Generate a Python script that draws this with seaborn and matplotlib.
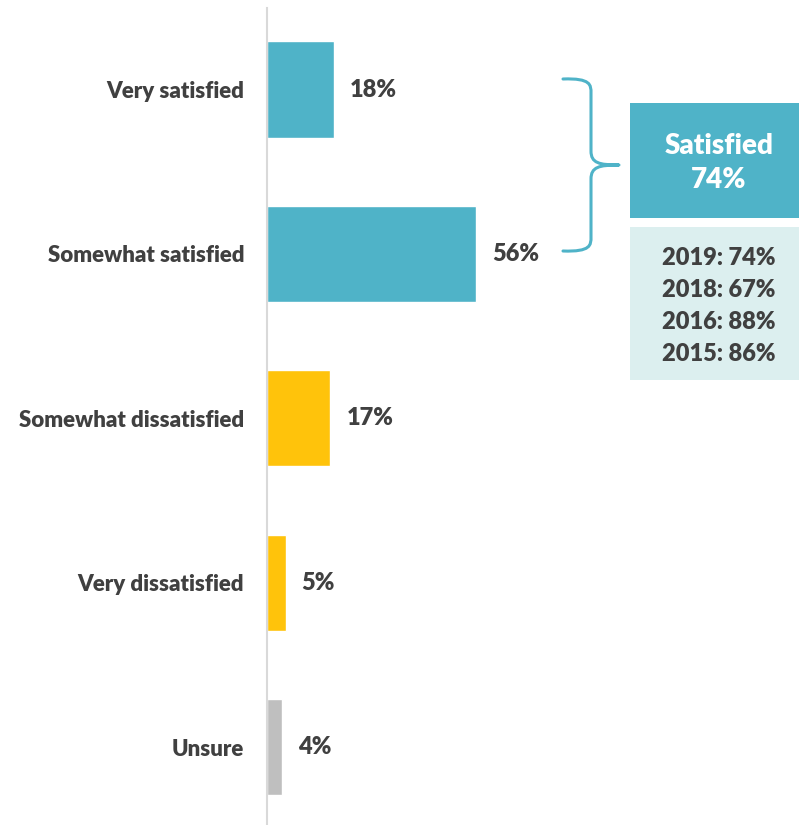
import matplotlib
matplotlib.use("Agg")
import matplotlib.pyplot as plt
from matplotlib.path import Path
from matplotlib.patches import PathPatch, Rectangle
import seaborn as sns
import pandas as pd

categories = ["Very satisfied", "Somewhat satisfied", "Somewhat dissatisfied",
              "Very dissatisfied", "Unsure"]
values = [18, 56, 17, 5, 4]
groups = ["sat", "sat", "dis", "dis", "unsure"]
group_colors = {"sat": "#4FB3C8", "dis": "#FFC30B", "unsure": "#BFBFBF"}

summary_title = "Satisfied"
summary_value = 74
trend_years = ["2019", "2018", "2016", "2015"]
trend_values = [74, 67, 88, 86]

TEXT = "#404040"
WEIGHT = "heavy"

sns.set_theme(style="white")
plt.rcParams["font.family"] = ["Lato", "DejaVu Sans"]

df = pd.DataFrame({"category": categories, "value": values, "group": groups})

W, H = 799, 825
fig = plt.figure(figsize=(W / 100, H / 100), dpi=100)
ax = fig.add_axes([267 / W, 0, 1 - 267 / W, 1 - 8 / H])

sns.barplot(data=df, y="category", x="value", hue="group", palette=group_colors,
            order=categories, orient="h", width=0.585, dodge=False,
            legend=False, saturation=1, ax=ax)

ax.set_xlim(0, 532 / 3.73)
ax.set_ylim(4.474, -0.496)
ax.set_xlabel("")
ax.set_ylabel("")
ax.set_xticks([])
ax.tick_params(axis="y", length=0, pad=16.5)
for lab in ax.get_yticklabels():
    lab.set_fontsize(16)
    lab.set_fontweight(WEIGHT)
    lab.set_color(TEXT)
for side in ["top", "right", "bottom"]:
    ax.spines[side].set_visible(False)
ax.spines["left"].set_color("#D9D9D9")
ax.spines["left"].set_linewidth(1.5)

for i, v in enumerate(values):
    ax.annotate(f"{v}%", xy=(v, i), xytext=(11.5, 0), textcoords="offset points",
                va="center", ha="left", fontsize=17, fontweight=WEIGHT, color=TEXT)

# overlay in pixel units for the summary callout
ov = fig.add_axes([0, 0, 1, 1], zorder=5)
ov.set_xlim(0, W)
ov.set_ylim(H, 0)
ov.axis("off")
ov.patch.set_alpha(0)

top, mid, bot = 79, 165, 251
xl, xv, xt = 563, 591, 619
verts = [
    (xl, top), (xv, top - 1), (xv, top + 6), (xv, top + 14),
    (xv, mid - 14),
    (xv, mid - 2), (xv + 8, mid), (xt, mid),
    (xv + 8, mid), (xv, mid + 2), (xv, mid + 14),
    (xv, bot - 14),
    (xv, bot - 6), (xv, bot + 1), (xl, bot),
]
codes = [Path.MOVETO, Path.CURVE4, Path.CURVE4, Path.CURVE4,
         Path.LINETO,
         Path.CURVE4, Path.CURVE4, Path.CURVE4,
         Path.CURVE4, Path.CURVE4, Path.CURVE4,
         Path.LINETO,
         Path.CURVE4, Path.CURVE4, Path.CURVE4]
ov.add_patch(PathPatch(Path(verts, codes), fill=False, edgecolor="#4FB3C8",
                       linewidth=2.2, capstyle="round", joinstyle="round"))

ov.add_patch(Rectangle((630, 103), W - 630, 115, facecolor="#4FB3C8", edgecolor="none"))
ov.text(719, 163, f"{summary_title}\n{summary_value}%", ha="center", va="center",
        fontsize=20, fontweight=WEIGHT, color="white", linespacing=1.4)

ov.add_patch(Rectangle((630, 227), W - 630, 153, facecolor="#DCEFEF", edgecolor="none"))
trend_text = "\n".join(f"{y}: {v}%" for y, v in zip(trend_years, trend_values))
ov.text(719, 306, trend_text, ha="center", va="center", fontsize=17,
        fontweight=WEIGHT, color=TEXT, linespacing=1.55)

fig.savefig("out.png", dpi=100)
